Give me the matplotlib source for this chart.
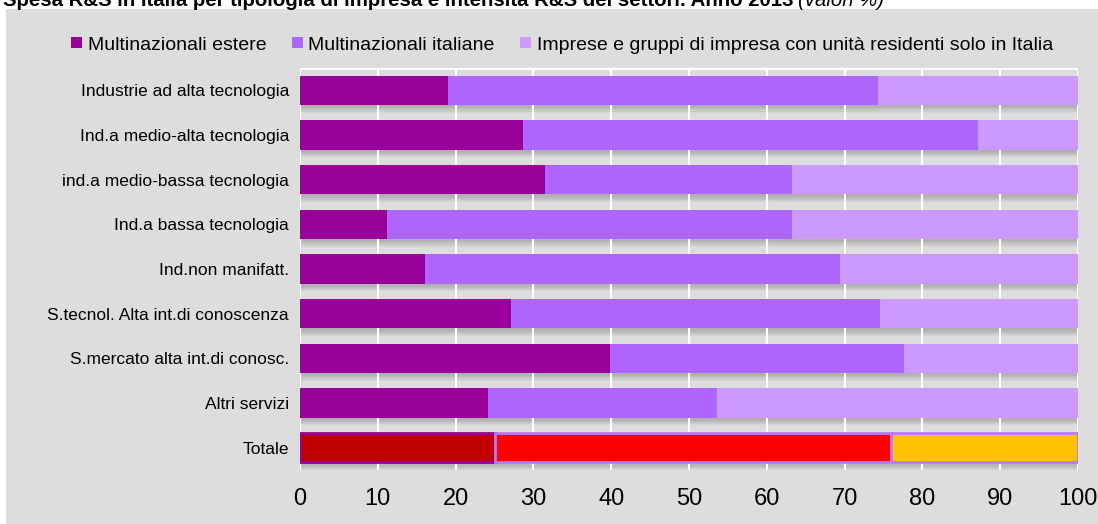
import numpy as np
import matplotlib
matplotlib.use('Agg')
import matplotlib.pyplot as plt
from matplotlib.patches import Patch, Rectangle

plt.rcParams['font.family'] = ['Liberation Sans Narrow', 'Liberation Sans', 'DejaVu Sans']

# data (valori %)
categorie = ['Industrie ad alta tecnologia', 'Ind.a medio-alta tecnologia',
             'ind.a medio-bassa tecnologia', 'Ind.a bassa tecnologia',
             'Ind.non manifatt.', 'S.tecnol. Alta int.di conoscenza',
             'S.mercato alta int.di conosc.', 'Altri servizi', 'Totale']
estere = [19.0, 28.7, 31.5, 11.2, 16.1, 27.1, 39.9, 24.2, 25.0]
italiane = [55.3, 58.5, 31.8, 52.0, 53.3, 47.4, 37.7, 29.4, 51.0]
solo_italia = [25.7, 12.8, 36.7, 36.8, 30.6, 25.5, 22.4, 46.4, 24.0]
serie = ['Multinazionali estere', 'Multinazionali italiane',
         'Imprese e gruppi di impresa con unità residenti solo in Italia']
xticks = [0, 10, 20, 30, 40, 50, 60, 70, 80, 90, 100]

col = ['#990099', '#AE66FF', '#CC99FF']
col_tot = ['#C00000', '#FF0000', '#FFC000']
edge_tot = ['#990099', '#B57BFF', '#B57BFF']
bg = '#DDDDDD'

fig = plt.figure(figsize=(10.98, 5.24), dpi=100, facecolor=bg)
# white strips (top for the title, thin one on the left)
fig.patches.append(Rectangle((0, 1 - 9 / 524), 1, 9 / 524, transform=fig.transFigure,
                             facecolor='white', edgecolor='none', zorder=0))
fig.patches.append(Rectangle((0, 0), 6 / 1098, 1, transform=fig.transFigure,
                             facecolor='white', edgecolor='none', zorder=0))
ax = fig.add_axes([300 / 1098, 1 - 470 / 524, 778 / 1098, 402 / 524])
ax.set_facecolor(bg)

y = np.arange(len(categorie))
h = 0.65
n = len(categorie)

# shadows under the bars
tot = np.array(estere) + np.array(italiane) + np.array(solo_italia)
for k in range(6):
    ax.barh(y + 0.05 + k * 0.025, tot, height=h, color='#707070', alpha=0.08, zorder=1)

left = np.zeros(n)
for i, vals in enumerate([estere, italiane, solo_italia]):
    vals = np.array(vals)
    colors = [col[i]] * (n - 1) + [col_tot[i]]
    edges = ['none'] * (n - 1) + [edge_tot[i]]
    lws = [0] * (n - 1) + [2]
    ax.barh(y, vals, left=left, height=h, color=colors, edgecolor=edges,
            linewidth=lws, zorder=3)
    left += vals

ax.set_ylim(n - 0.5, -0.5)
ax.set_xlim(0, 100)
ax.set_xticks(xticks)
ax.set_xticklabels([str(t) for t in xticks], fontsize=17)
ax.set_yticks(y)
ax.set_yticklabels(categorie, fontsize=12.5)
ax.tick_params(length=0)
ax.tick_params(axis='x', pad=13)
ax.tick_params(axis='y', pad=8)
for s in ax.spines.values():
    s.set_visible(False)
ax.grid(axis='x', color='white', linewidth=1.5, zorder=0)
ax.axhline(-0.5, color='white', linewidth=2, zorder=0)

# title (partly cut off at the top, as in the original)
fig.text(0.003, 1 - 6 / 524, 'Spesa R&S in Italia per tipologia di impresa e intensità R&S dei settori. Anno 2013 ',
         fontsize=14.7, fontweight='bold', family=['Liberation Sans', 'DejaVu Sans'], va='baseline')
fig.text(798 / 1098, 1 - 6 / 524, '(valori %)', fontsize=14.7, style='italic',
         family=['Liberation Sans', 'DejaVu Sans'], va='baseline')

handles = [Patch(facecolor=c, edgecolor='none') for c in col]
fig.legend(handles, serie, loc='center', bbox_to_anchor=(0.512, 1 - 45 / 524), ncol=3,
           frameon=False, fontsize=14, handlelength=0.55, handleheight=0.55,
           handletextpad=0.3, columnspacing=1.3)

fig.savefig('out.png', dpi=100, facecolor=bg)
